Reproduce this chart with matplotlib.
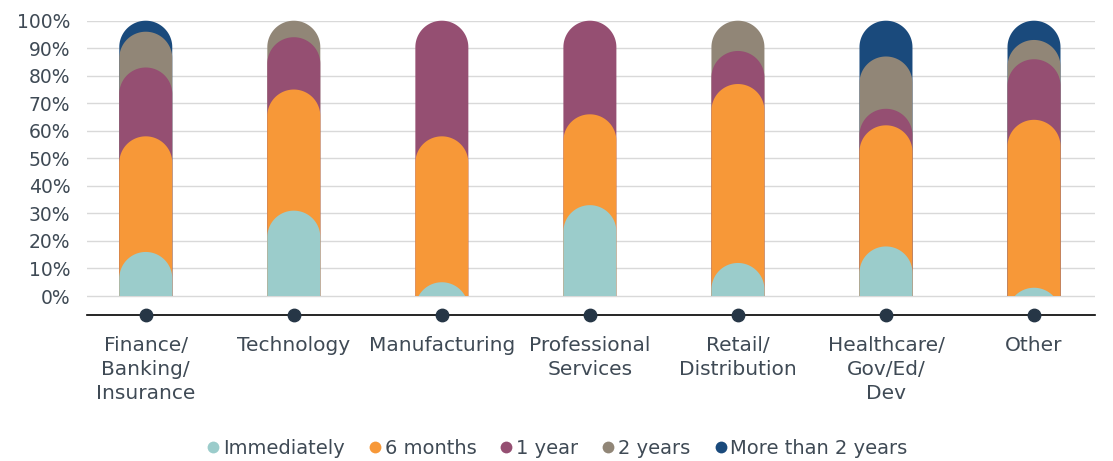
import numpy as np
import matplotlib
matplotlib.use("Agg")
import matplotlib.pyplot as plt
from matplotlib.path import Path
from matplotlib.patches import PathPatch, Rectangle
from matplotlib.lines import Line2D

categories = ["Finance/\nBanking/\nInsurance", "Technology", "Manufacturing",
              "Professional\nServices", "Retail/\nDistribution",
              "Healthcare/\nGov/Ed/\nDev", "Other"]
series_names = ["Immediately", "6 months", "1 year", "2 years", "More than 2 years"]
immediately = [16, 31, 5, 33, 12, 18, 3]
six_months = [42, 44, 53, 33, 65, 44, 61]
one_year = [25, 19, 42, 34, 12, 6, 22]
two_years = [13, 6, 0, 0, 11, 19, 7]
more_than_2 = [4, 0, 0, 0, 0, 13, 7]
colors = ["#9BCCCB", "#F79838", "#954F72", "#918677", "#1A4A7C"]
yticks = list(range(0, 101, 10))

text_color = "#3F4A55"
plt.rcParams['font.family'] = ['DejaVu Sans']

W, H = 1113, 461
fig = plt.figure(figsize=(W / 100, H / 100), dpi=100)
left, right = 87 / W, 1095.3 / W
bottom = (H - 315) / H
top = (H - 20.7) / H
ax = fig.add_axes([left, bottom, right - left, top - bottom])
xmin, xmax = -0.397, 6.414
ymin, ymax = -6.9, 100
ax.set_xlim(xmin, xmax)
ax.set_ylim(ymin, ymax)

px_x = (right - left) * W / (xmax - xmin)
px_y = (top - bottom) * H / (ymax - ymin)

data = np.array([immediately, six_months, one_year, two_years, more_than_2], dtype=float)
cum = np.cumsum(data, axis=0)
x = np.arange(len(categories))
bar_w = 0.358
hw = bar_w / 2
ry = hw * px_x / px_y

t = np.linspace(np.pi, 0, 80)
for si in range(len(series_names) - 1, -1, -1):
    for ci in range(len(categories)):
        if data[si, ci] <= 0:
            continue
        topv = cum[si, ci]
        cy = topv - ry
        xs = np.concatenate([[x[ci] - hw], x[ci] + hw * np.cos(t), [x[ci] + hw]])
        ys = np.concatenate([[min(cy, 0) - 20], cy + ry * np.sin(t), [min(cy, 0) - 20]])
        verts = np.column_stack([xs, ys])
        verts = np.vstack([verts, verts[:1]])
        codes = [Path.MOVETO] + [Path.LINETO] * (len(verts) - 2) + [Path.CLOSEPOLY]
        p = PathPatch(Path(verts, codes), facecolor=colors[si], edgecolor='none', zorder=2 + (4 - si) * 0.1)
        ax.add_patch(p)
        clip = Rectangle((xmin, 0), xmax - xmin, 110, transform=ax.transData)
        p.set_clip_path(clip)

# dots on axis
ax.scatter(x, [ymin] * len(x), s=80, color="#263646", zorder=5, clip_on=False)

ax.set_yticks(yticks)
ax.set_yticklabels([f"{v}%" for v in yticks], fontsize=13.5, color=text_color)
ax.yaxis.grid(True, color="#D9D9D9", linewidth=1.0, zorder=0)
ax.set_axisbelow(True)
ax.tick_params(axis='y', length=0, pad=12)
ax.set_xticks(x)
ax.set_xticklabels(categories, fontsize=14.5, color=text_color, linespacing=1.35)
ax.tick_params(axis='x', length=0, pad=15)
for s in ["top", "right", "left"]:
    ax.spines[s].set_visible(False)
ax.spines["bottom"].set_color("black")
ax.spines["bottom"].set_linewidth(1.2)

handles = [Line2D([], [], marker='o', linestyle='none', markersize=8.5, markerfacecolor=c,
                  markeredgecolor='none') for c in colors]
fig.legend(handles, series_names, loc='center', bbox_to_anchor=(0.5, 13 / H), ncol=5,
           frameon=False, fontsize=14, labelcolor=text_color, handletextpad=0.1,
           columnspacing=1.15, handlelength=0.8)

fig.savefig("out.png", dpi=100)
